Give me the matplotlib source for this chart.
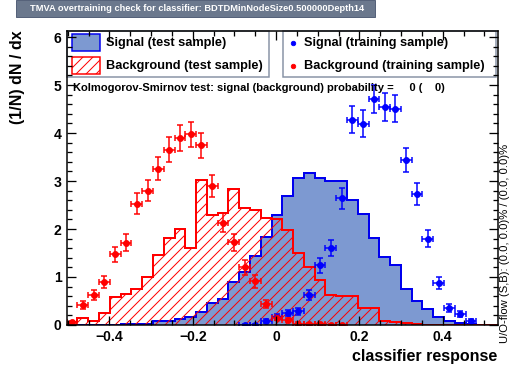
import numpy as np
import matplotlib
matplotlib.use("Agg")
import matplotlib.pyplot as plt
import matplotlib.ticker as ticker
from matplotlib.patches import Rectangle
from matplotlib.lines import Line2D

# classifier response binning
x_min, x_max = -0.5024, 0.5324
n_bins = 40

# test samples (histograms)
sig_test = [0, 0, 0, 0, 0, 0.02, 0.02, 0.03, 0.09, 0.09,
            0.12, 0.17, 0.27, 0.45, 0.55, 0.90, 1.11, 1.43, 1.84, 2.30,
            2.68, 3.07, 3.16, 3.06, 2.99, 2.99, 2.61, 2.32, 1.81, 1.42,
            1.25, 0.75, 0.50, 0.33, 0.17, 0.09, 0.04, 0.02, 0.01, 0]
bkg_test = [0.06, 0.14, 0.09, 0.26, 0.58, 0.64, 0.74, 1.01, 1.45, 1.82,
            2.00, 1.61, 3.02, 2.30, 2.34, 2.83, 2.44, 2.40, 2.23, 2.20,
            1.98, 1.51, 1.20, 0.94, 0.62, 0.61, 0.61, 0.36, 0.36, 0.09,
            0.06, 0.04, 0.02, 0.01, 0, 0, 0, 0, 0, 0]

# training samples (points with errors)
sig_train = [0, 0, 0, 0, 0, 0, 0, 0, 0, 0,
             0, 0, 0, 0, 0, 0, 0.01, 0.01, 0.09, 0.17,
             0.25, 0.29, 0.62, 1.24, 1.60, 2.64, 4.28, 4.19, 4.71, 4.55,
             4.51, 3.44, 2.73, 1.80, 0.87, 0.36, 0.22, 0.09, 0, 0]
sig_train_err = [0, 0, 0, 0, 0, 0, 0, 0, 0, 0,
                 0, 0, 0, 0, 0, 0, 0.014, 0.014, 0.04, 0.056,
                 0.068, 0.073, 0.106, 0.15, 0.17, 0.22, 0.28, 0.28, 0.29, 0.29,
                 0.29, 0.25, 0.22, 0.18, 0.126, 0.081, 0.063, 0.04, 0, 0]
bkg_train = [0.06, 0.42, 0.62, 0.89, 1.47, 1.71, 2.53, 2.80, 3.26, 3.65,
             3.90, 3.97, 3.74, 2.90, 2.13, 1.72, 1.20, 0.91, 0.44, 0.15,
             0.11, 0.03, 0.02, 0.02, 0.01, 0.01, 0, 0, 0, 0,
             0, 0, 0, 0, 0, 0, 0, 0, 0, 0]
bkg_train_err = [0.033, 0.087, 0.106, 0.127, 0.164, 0.177, 0.215, 0.226, 0.244, 0.258,
                 0.267, 0.269, 0.261, 0.23, 0.197, 0.177, 0.148, 0.129, 0.09, 0.052,
                 0.045, 0.023, 0.019, 0.019, 0.014, 0.014, 0, 0, 0, 0,
                 0, 0, 0, 0, 0, 0, 0, 0, 0, 0]

DPI = 60
W, H = 516, 373

def pt(px):
    return px * 72.0 / DPI

def fx(px):
    return px / W

def fy(py):
    return 1 - py / H

plt.rcParams['font.family'] = ['Liberation Sans', 'DejaVu Sans']
plt.rcParams['font.weight'] = 'bold'
plt.rcParams['hatch.linewidth'] = pt(1.0)

SIG_FILL = '#7d99d1'
SIG_LINE = '#0000ee'
BKG_LINE = '#ff0000'

fig = plt.figure(figsize=(W / DPI, H / DPI), dpi=DPI)
ax = fig.add_axes([fx(66.7), fy(325), fx(497.9) - fx(66.7), fy(31) - fy(325)])
ax.set_axisbelow(False)

edges = np.linspace(x_min, x_max, n_bins + 1)
centers = 0.5 * (edges[:-1] + edges[1:])
half = 0.5 * (edges[1] - edges[0])

ax.stairs(sig_test, edges, fill=True, facecolor=SIG_FILL, linewidth=0)
ax.stairs(sig_test, edges, color=SIG_LINE, linewidth=pt(2))
ax.stairs(bkg_test, edges, fill=False, hatch='//', edgecolor=BKG_LINE, linewidth=pt(2))

for vals, errs, col in [(sig_train, sig_train_err, '#0000ff'), (bkg_train, bkg_train_err, '#ff0000')]:
    v = np.array(vals)
    e = np.array(errs)
    m = v > 0
    ax.errorbar(centers[m], v[m], xerr=half, yerr=e[m], fmt='o', color=col,
                ms=pt(6), elinewidth=pt(1.5), capsize=pt(3), capthick=pt(1.5))

ax.set_xlim(x_min, x_max)
ax.set_ylim(0, 6.125)
ax.xaxis.set_major_locator(ticker.MultipleLocator(0.2))
ax.xaxis.set_minor_locator(ticker.MultipleLocator(0.05))
ax.yaxis.set_major_locator(ticker.MultipleLocator(1))
ax.yaxis.set_minor_locator(ticker.MultipleLocator(0.2))
ax.xaxis.set_major_formatter(ticker.FuncFormatter(
    lambda v, _: '0' if abs(v) < 1e-9 else ('%.1f' % v).replace('-', '\u2212')))
ax.yaxis.set_major_formatter(ticker.FuncFormatter(lambda v, _: '%d' % round(v)))
ax.tick_params(which='both', direction='in', top=True, right=True, width=pt(1.3), colors='black')
ax.tick_params(which='major', length=pt(9), labelsize=pt(14), pad=pt(5))
ax.tick_params(which='minor', length=pt(5))
for s in ax.spines.values():
    s.set_linewidth(pt(1.5))

# legend boxes
tf = fig.transFigure
for x0, x1 in [(66.7, 269), (282.7, 496)]:
    ax.add_patch(Rectangle((fx(x0), fy(77)), fx(x1) - fx(x0), fy(31) - fy(77), transform=tf,
                           facecolor='white', edgecolor='#8893a5', lw=pt(1.5), zorder=2.2, clip_on=False))
ax.add_patch(Rectangle((fx(72), fy(51)), fx(100) - fx(72), fy(34.5) - fy(51), transform=tf,
                       facecolor=SIG_FILL, edgecolor=SIG_LINE, lw=pt(1.5), zorder=2.3, clip_on=False))
ax.add_patch(Rectangle((fx(72), fy(74)), fx(100) - fx(72), fy(57.5) - fy(74), transform=tf,
                       facecolor='none', edgecolor=BKG_LINE, hatch='//', lw=pt(1.5), zorder=2.3, clip_on=False))
ax.add_line(Line2D([fx(293.3)], [fy(43)], transform=tf, marker='o', color='#0000ff', ms=pt(4.5), zorder=2.3, clip_on=False))
ax.add_line(Line2D([fx(293.3)], [fy(66)], transform=tf, marker='o', color='#ff0000', ms=pt(4.5), zorder=2.3, clip_on=False))
leg_fs = pt(12.7)
ax.text(fx(106), fy(43), 'Signal (test sample)', transform=tf, fontsize=leg_fs, va='center', zorder=3)
ax.text(fx(106), fy(66), 'Background (test sample)', transform=tf, fontsize=leg_fs, va='center', zorder=3)
ax.text(fx(304), fy(43), 'Signal (training sample)', transform=tf, fontsize=leg_fs, va='center', zorder=3)
ax.text(fx(304), fy(66), 'Background (training sample)', transform=tf, fontsize=leg_fs, va='center', zorder=3)

ax.text(fx(73), fy(88), 'Kolmogorov-Smirnov test: signal (background) probability =     0 (    0)',
        transform=tf, fontsize=pt(11.1), va='center', zorder=3)

# axis titles
fig.text(fx(18), fy(30), '(1/N) dN / dx', rotation=90, ha='center', va='top', fontsize=pt(16))
fig.text(fx(497), fy(357), 'classifier response', ha='right', va='center', fontsize=pt(16))
fig.text(fx(505), fy(343), 'U/O-flow (S,B): (0.0, 0.0)% / (0.0, 0.0)%', rotation=90,
         ha='center', va='bottom', fontsize=pt(11.3), fontweight='normal')

# title box
fig.patches.append(Rectangle((fx(16), fy(17)), fx(375) - fx(16), fy(0) - fy(17), transform=tf,
                             facecolor='#6b788d', edgecolor='#56627a', lw=pt(1), figure=fig))
fig.text(fx(30), fy(8.5), 'TMVA overtraining check for classifier: BDTDMinNodeSize0.500000Depth14',
         color='white', fontsize=pt(9.2), va='center')

fig.savefig('out.png', dpi=DPI)
